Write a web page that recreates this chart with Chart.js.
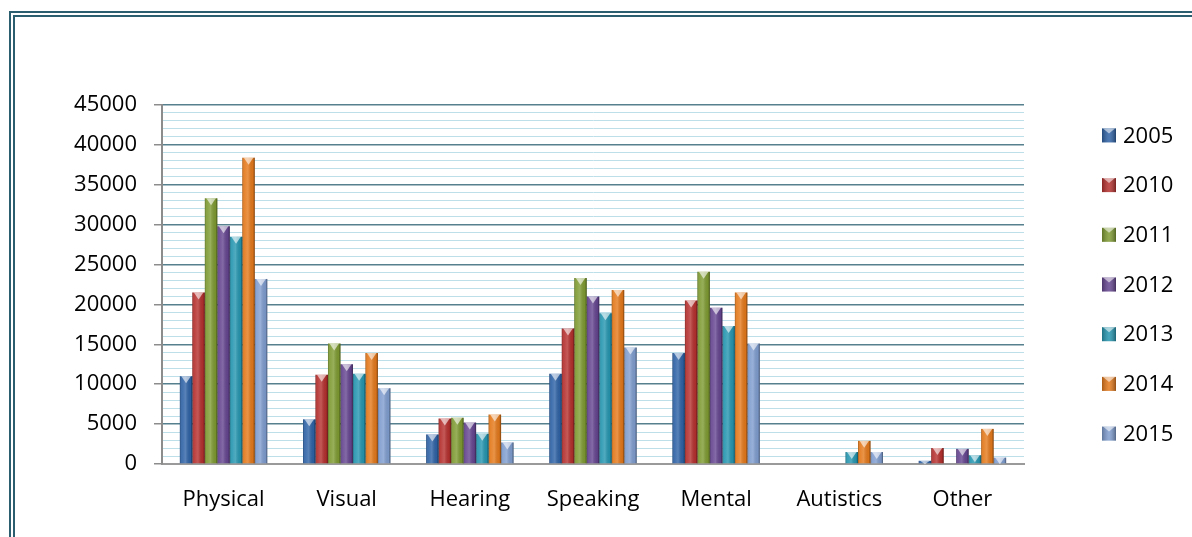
<!DOCTYPE html>
<html>
<head>
<meta charset="utf-8">
<script src="https://cdn.jsdelivr.net/npm/chart.js@4.4.0/dist/chart.umd.min.js"></script>
<style>
  html, body { margin: 0; padding: 0; background: #fff; overflow: hidden; }
  #frame { position: absolute; left: 9px; top: 11px; width: 1300px; height: 700px; border: 6px double #2b5f6f; }
  #wrap { position: absolute; left: 0; top: 0; width: 1192px; height: 537px; }
</style>
</head>
<body>
<div id="frame"></div>
<div id="wrap"><canvas id="myChart"></canvas></div>
<script>
const categories = ['Physical', 'Visual', 'Hearing', 'Speaking', 'Mental', 'Autistics', 'Other'];
const years = ['2005', '2010', '2011', '2012', '2013', '2014', '2015'];

const y2005 = [11000, 5600, 3700, 11300, 13900, 0, 400];
const y2010 = [21500, 11200, 5700, 17000, 20500, 0, 2000];
const y2011 = [33300, 15100, 5800, 23300, 24100, 0, 0];
const y2012 = [29800, 12500, 5200, 21000, 19600, 0, 1900];
const y2013 = [28500, 11300, 3800, 18900, 17300, 1500, 1100];
const y2014 = [38400, 13900, 6200, 21800, 21500, 2900, 4400];
const y2015 = [23200, 9500, 2700, 14600, 15100, 1500, 800];

const yMin = 0;
const yMax = 45000;
const minorStep = 1000;
const majorStep = 5000;

const colors = ['#2e62a6', '#b5302e', '#7f9b32', '#654590', '#2596b0', '#e4791b', '#7f9dcf'];
const series = [y2005, y2010, y2011, y2012, y2013, y2014, y2015];

const FONT = "'Open Sans', sans-serif";

// shading + little top triangle on each bar so they look like the office 3d bars
const bevelPlugin = {
  id: 'bevel',
  afterDatasetsDraw(chart) {
    const c = chart.ctx;
    chart.data.datasets.forEach((ds, i) => {
      const meta = chart.getDatasetMeta(i);
      meta.data.forEach(bar => {
        const p = bar.getProps(['x', 'y', 'width', 'base'], true);
        const h = p.base - p.y;
        if (h < 1) return;
        const l = p.x - p.width / 2;
        const g = c.createLinearGradient(l, 0, l + p.width, 0);
        g.addColorStop(0, 'rgba(0,0,0,0.28)');
        g.addColorStop(0.15, 'rgba(255,255,255,0.08)');
        g.addColorStop(0.45, 'rgba(255,255,255,0.2)');
        g.addColorStop(0.85, 'rgba(0,0,0,0.06)');
        g.addColorStop(1, 'rgba(0,0,0,0.45)');
        c.save();
        c.fillStyle = g;
        c.fillRect(l, p.y, p.width, h);
        const th = Math.min(6, h);
        c.beginPath();
        c.moveTo(l + 1.5, p.y);
        c.lineTo(l + p.width - 1.5, p.y);
        c.lineTo(p.x, p.y + th + 1);
        c.closePath();
        c.fillStyle = 'rgba(255,255,255,0.6)';
        c.fill();
        c.restore();
      });
    });
  }
};

// legend on the right, one year per row
const sideLegend = {
  id: 'sideLegend',
  afterDraw(chart) {
    const c = chart.ctx;
    const a = chart.chartArea;
    const x0 = a.right + 78;
    const gap = 49.7;
    const n = chart.data.datasets.length;
    const yMid = (a.top + a.bottom) / 2;
    c.save();
    chart.data.datasets.forEach((ds, i) => {
      const cy = yMid + (i - (n - 1) / 2) * gap;
      c.fillStyle = ds.backgroundColor;
      c.fillRect(x0, cy - 7, 14, 14);
      const g = c.createLinearGradient(x0, 0, x0 + 14, 0);
      g.addColorStop(0, 'rgba(0,0,0,0.25)');
      g.addColorStop(0.5, 'rgba(255,255,255,0.15)');
      g.addColorStop(1, 'rgba(0,0,0,0.35)');
      c.fillStyle = g;
      c.fillRect(x0, cy - 7, 14, 14);
      c.beginPath();
      c.moveTo(x0 + 1, cy - 7);
      c.lineTo(x0 + 13, cy - 7);
      c.lineTo(x0 + 7, cy - 2);
      c.closePath();
      c.fillStyle = 'rgba(255,255,255,0.55)';
      c.fill();
      c.fillStyle = '#000';
      c.font = '22px ' + FONT;
      c.textBaseline = 'middle';
      c.textAlign = 'left';
      c.fillText(ds.label, x0 + 21, cy + 1);
    });
    c.restore();
  }
};

const ctx = document.getElementById('myChart');

new Chart(ctx, {
  type: 'bar',
  data: {
    labels: categories,
    datasets: years.map((yr, i) => ({
      label: yr,
      data: series[i],
      backgroundColor: colors[i],
      borderWidth: 0,
      barPercentage: 1,
      categoryPercentage: 0.71
    }))
  },
  options: {
    responsive: true,
    maintainAspectRatio: false,
    animation: false,
    layout: { padding: { left: 20, top: 105, right: 168, bottom: 0 } },
    plugins: {
      legend: { display: false },
      tooltip: { enabled: false }
    },
    scales: {
      x: {
        grid: { display: false, drawTicks: false },
        border: { color: '#9a9a9a', width: 2 },
        ticks: { color: '#000', font: { family: FONT, size: 22 }, padding: 23, maxRotation: 0 },
        afterFit: (s) => { s.height = 73; }
      },
      y: {
        min: yMin,
        max: yMax,
        grid: {
          color: (c) => (c.tick && c.tick.value % majorStep === 0) ? '#56808e' : '#bcdfe9',
          lineWidth: (c) => (c.tick && c.tick.value % majorStep === 0) ? 1.5 : 1,
          tickColor: (c) => (c.tick && c.tick.value % majorStep === 0) ? '#8c8c8c' : 'rgba(0,0,0,0)',
          tickLength: 8
        },
        border: { color: '#8c8c8c', width: 2 },
        ticks: {
          stepSize: minorStep,
          autoSkip: false,
          color: '#000',
          font: { family: FONT, size: 22 },
          padding: 17,
          callback: (v) => (v % majorStep === 0) ? String(v) : ''
        },
        afterFit: (s) => { s.width = 142; }
      }
    }
  },
  plugins: [bevelPlugin, sideLegend]
});
</script>
</body>
</html>
